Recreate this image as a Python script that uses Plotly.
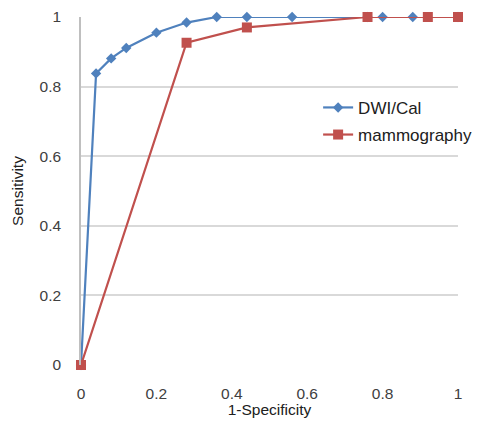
import plotly.graph_objects as go

dwi_x = [0, 0.04, 0.08, 0.12, 0.2, 0.28, 0.36, 0.44, 0.56, 0.76, 0.8, 0.88, 1.0]
dwi_y = [0, 0.838, 0.881, 0.911, 0.955, 0.984, 1.0, 1.0, 1.0, 1.0, 1.0, 1.0, 1.0]
mam_x = [0, 0.28, 0.44, 0.76, 0.92, 1.0]
mam_y = [0, 0.926, 0.970, 1.0, 1.0, 1.0]
ticks = [0, 0.2, 0.4, 0.6, 0.8, 1]
tick_text = ["0", "0.2", "0.4", "0.6", "0.8", "1"]

blue = "#4F81BD"
red = "#C0504D"

fig = go.Figure()
fig.add_trace(go.Scatter(x=dwi_x, y=dwi_y, name="DWI/Cal", mode="lines+markers",
                         legendgroup="a", cliponaxis=False,
                         line=dict(color=blue, width=2.2),
                         marker=dict(symbol="diamond", size=8, color=blue)))
fig.add_trace(go.Scatter(x=mam_x, y=mam_y, name="mammography", mode="lines+markers",
                         legendgroup="b", cliponaxis=False,
                         line=dict(color=red, width=2.2),
                         marker=dict(symbol="square", size=10, color=red)))

fam = "Liberation Sans, Arial, sans-serif"
fig.update_layout(
    width=482, height=422,
    margin=dict(l=81, r=24, t=17, b=57, autoexpand=False),
    paper_bgcolor="white", plot_bgcolor="white",
    font=dict(family=fam, size=15.5, color="#404040"),
    showlegend=True,
    legend=dict(xref="container", yref="container", x=0.66, y=0.787,
                xanchor="left", yanchor="top",
                bgcolor="rgba(0,0,0,0)",
                font=dict(size=17, color="#202020", family=fam),
                traceorder="grouped", tracegroupgap=2, itemwidth=30),
    xaxis=dict(range=[0, 1], tickvals=ticks, ticktext=tick_text, showgrid=False,
               zeroline=False, showline=False, ticks="", ticklabelstandoff=17,
               automargin=False,
               title=dict(text="1-Specificity", standoff=0,
                          font=dict(size=15.5, color="#202020"))),
    yaxis=dict(range=[0, 1], tickvals=ticks, ticktext=tick_text, showgrid=True,
               gridcolor="#D9D9D9", gridwidth=1.5, zeroline=False,
               showline=True, linecolor="#BFBFBF", linewidth=1.5, ticks="",
               ticklabelstandoff=15, automargin=False,
               title=dict(text="Sensitivity", standoff=12,
                          font=dict(size=15.5, color="#202020"))),
)
fig.write_html("out.html")
